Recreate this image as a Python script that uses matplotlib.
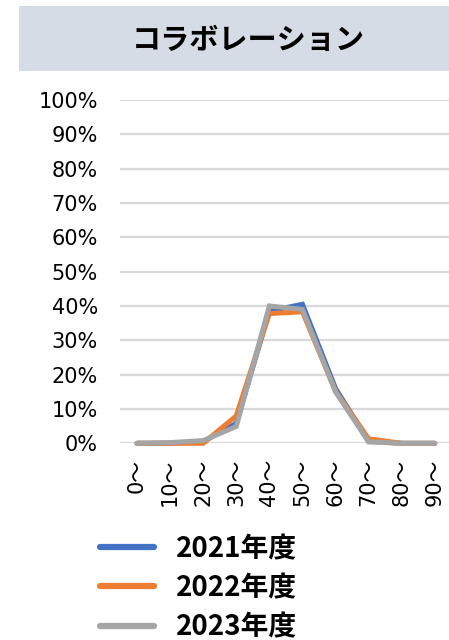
import matplotlib
matplotlib.use("Agg")
import matplotlib.pyplot as plt
from matplotlib.patches import Rectangle

# data (share of people per age band)
categories = ["0〜", "10〜", "20〜", "30〜", "40〜", "50〜", "60〜", "70〜", "80〜", "90〜"]
years = ["2021年度", "2022年度", "2023年度"]
v2021 = [0.0, 0.0, 0.005, 0.058, 0.385, 0.405, 0.16, 0.006, 0.0, 0.0]
v2022 = [0.0, 0.0, 0.0, 0.08, 0.378, 0.383, 0.152, 0.013, 0.0, 0.0]
v2023 = [0.0, 0.002, 0.008, 0.049, 0.40, 0.39, 0.15, 0.004, 0.0, 0.0]
colors = ["#4472C4", "#ED7D31", "#A5A5A5"]
yticks = [i / 10 for i in range(11)]
ytick_labels = [f"{i * 10}%" for i in range(11)]

W, H = 449, 640
fig = plt.figure(figsize=(W / 100, H / 100), dpi=100)

# title banner
fig.patches.append(Rectangle((19 / W, 1 - 71 / H), 1, 65 / H, transform=fig.transFigure,
                             facecolor="#D6DCE5", edgecolor="none"))
fig.text(248 / W, 1 - 40 / H, "コラボレーション", ha="center", va="center",
         fontsize=21, fontweight="bold", family=["Noto Sans CJK JP", "DejaVu Sans"])

ax = fig.add_axes([120 / W, 1 - 443.3 / H, (W - 120) / W, (443.3 - 100) / H])
x = list(range(len(categories)))
for vals, c, lab in zip([v2021, v2022, v2023], colors, years):
    ax.plot(x, vals, color=c, lw=3.6, label=lab, solid_joinstyle="miter",
            solid_capstyle="round", clip_on=False)

ax.set_xlim(-0.514, 9.43)
ax.set_ylim(0, 1)
ax.set_yticks(yticks)
ax.set_yticklabels(ytick_labels, fontsize=15, family="DejaVu Sans")
ax.set_xticks(x)
ax.set_xticklabels(categories, rotation=90, fontsize=15,
                   family=["DejaVu Sans", "Noto Sans CJK JP"])
ax.tick_params(length=0)
ax.tick_params(axis="y", pad=16)
ax.tick_params(axis="x", pad=11)
ax.grid(axis="y", color="#D9D9D9", lw=1.6)
ax.set_axisbelow(True)
for s in ax.spines.values():
    s.set_visible(False)

handles, labels = ax.get_legend_handles_labels()
leg = fig.legend(handles, labels, loc="upper left", bbox_to_anchor=(100 / W, 1 - 535 / H),
                 frameon=False, borderpad=0, borderaxespad=0, handlelength=1.95,
                 handletextpad=0.8, labelspacing=0.4,
                 prop={"family": ["Noto Sans CJK JP", "DejaVu Sans"], "weight": "bold", "size": 20})
for line in leg.get_lines():
    line.set_linewidth(4.5)

fig.savefig("out.png", dpi=100)
